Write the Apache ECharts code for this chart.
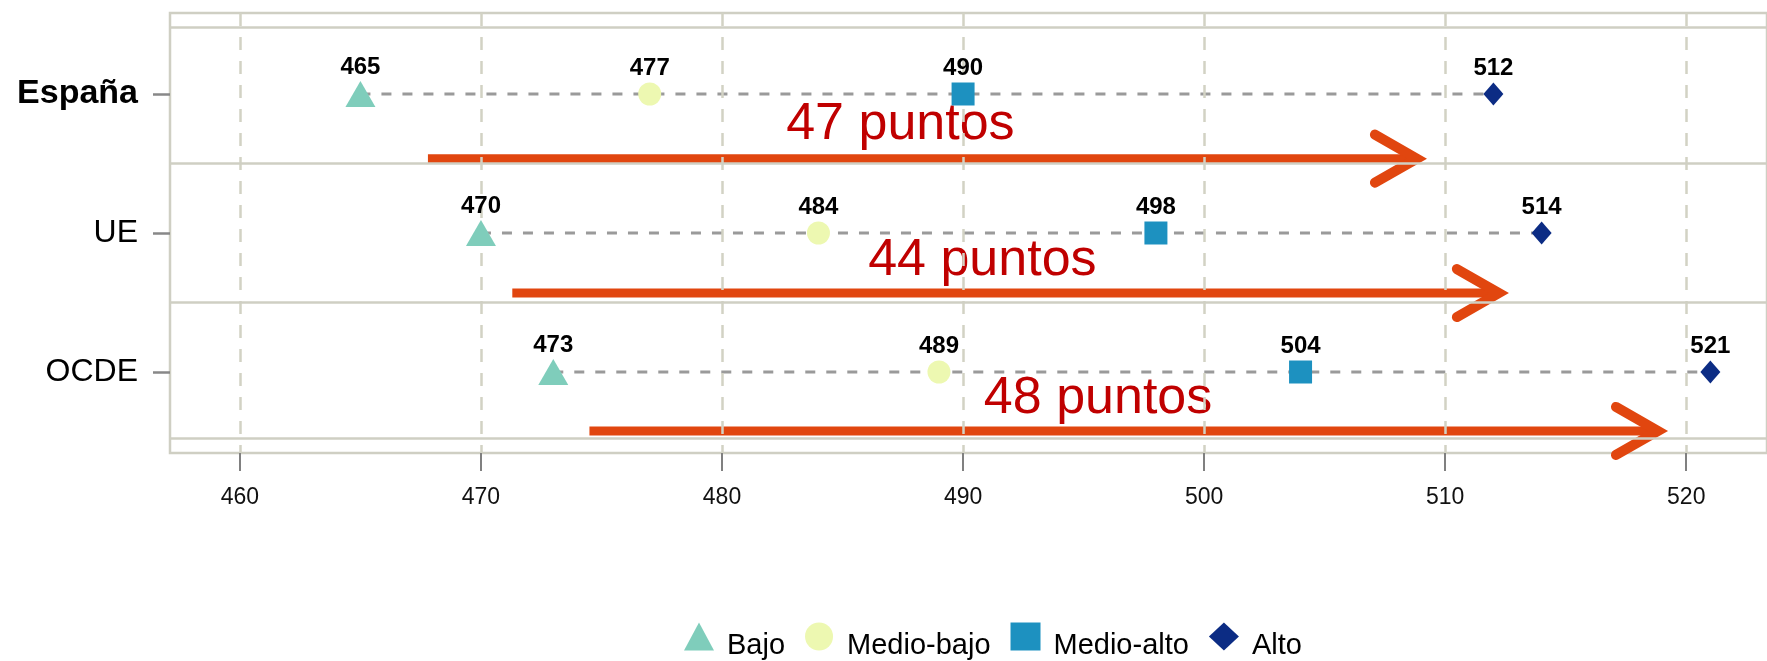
<!DOCTYPE html>
<html>
<head>
<meta charset="utf-8">
<script src="https://cdn.jsdelivr.net/npm/echarts@6/dist/echarts.min.js"></script>
<style>
html,body{margin:0;padding:0;background:#fff;}
#chart{width:1767px;height:661px;}
</style>
</head>
<body>
<div id="chart"></div>
<script>
// ---- data ----
const categories = ['España', 'UE', 'OCDE'];
const levels = ['Bajo', 'Medio-bajo', 'Medio-alto', 'Alto'];
const bajo = [465, 470, 473];
const medioBajo = [477, 484, 489];
const medioAlto = [490, 498, 504];
const alto = [512, 514, 521];
const xTicks = [460, 470, 480, 490, 500, 510, 520];
const gapLabels = ['47 puntos', '44 puntos', '48 puntos'];
const arrowFrom = [467.8, 471.3, 474.5];
const arrowTo = [509.2, 512.6, 519.2];
const arrowRow = [0.465, 1.432, 2.424];
const gapLabelX = [487.4, 490.8, 495.6];
const gapLabelRow = [0.22, 1.197, 2.194];

// ---- styles ----
const FONT = '"Liberation Sans", Arial, sans-serif';
const colors = ['#7fcdbb', '#edf8b1', '#1d91c0', '#0c2c84'];
const symbols = ['triangle', 'circle', 'rect', 'diamond'];
const symbolSizes = [[30, 26], [23, 23], [23, 23], [20, 23]];
const ARROW = '#e1460f';
const FRAME = '#cfcfc3';

const seriesValues = [bajo, medioBajo, medioAlto, alto];

const bandLines = [-0.485];
categories.forEach((c, i) => { if (i < categories.length - 1) bandLines.push(i + 0.5); });
bandLines.push(categories.length - 1 + 0.485);

const chart = echarts.init(document.getElementById('chart'), null, {renderer: 'canvas'});

const series = [];

// grid lines (structural) attached to an empty helper series
series.push({
  type: 'line', name: '_grid', data: [], silent: true, z: 1,
  markLine: {
    silent: true, symbol: ['none', 'none'], animation: false,
    label: {show: false},
    data: xTicks.map(v => ({xAxis: v, lineStyle: {color: '#d2d2c4', width: 2.5, type: [13, 11]}}))
      .concat(bandLines.map(v => ({yAxis: v, lineStyle: {color: FRAME, width: 2.5, type: 'solid'}})))
  }
});

// dashed connectors per row
categories.forEach((c, i) => {
  series.push({
    type: 'line', name: '_conn' + i, silent: true, z: 2,
    symbol: 'none',
    data: [[bajo[i], i], [alto[i], i]],
    lineStyle: {color: '#9a9a9a', width: 3, type: [10, 11]}
  });
});

// arrows + gap labels
series.push({
  type: 'custom', name: '_arrows', silent: true, z: 3, clip: false,
  data: arrowFrom.map((f, i) => [f, arrowTo[i], arrowRow[i], gapLabelX[i], gapLabelRow[i]]),
  encode: {x: [0, 1, 3], y: [2, 4]},
  renderItem: (params, api) => {
    const a = api.coord([api.value(0), api.value(2)]);
    const b = api.coord([api.value(1), api.value(2)]);
    const l = api.coord([api.value(3), api.value(4)]);
    const tipX = b[0] - 9;
    return {
      type: 'group',
      children: [
        {type: 'line', shape: {x1: a[0], y1: a[1], x2: tipX - 4, y2: b[1]},
         style: {stroke: ARROW, lineWidth: 9, lineCap: 'butt'}},
        {type: 'polyline', shape: {points: [[tipX - 42, b[1] - 24], [tipX, b[1]], [tipX - 42, b[1] + 24]]},
         style: {stroke: ARROW, lineWidth: 10, lineCap: 'round', lineJoin: 'miter', fill: null}},
        {type: 'text', x: l[0], y: l[1],
         style: {text: gapLabels[params.dataIndex], fill: '#c00000', font: '52px ' + FONT,
                 align: 'center', verticalAlign: 'middle'}}
      ]
    };
  }
});

// level markers
levels.forEach((lv, k) => {
  series.push({
    type: 'scatter', name: lv, z: 5,
    symbol: symbols[k], symbolSize: symbolSizes[k],
    itemStyle: {color: colors[k], opacity: 1},
    data: seriesValues[k].map((v, i) => [v, i]),
    label: {
      show: true, position: 'top', distance: 2,
      formatter: p => String(p.value[0]),
      color: '#000', fontFamily: FONT, fontSize: 24, fontWeight: 'bold'
    }
  });
});

chart.setOption({
  animation: false,
  backgroundColor: '#fff',
  grid: {left: 170, right: -3, top: 13, bottom: 208, show: true, borderColor: FRAME, borderWidth: 2.5, backgroundColor: 'transparent'},
  xAxis: {
    type: 'value', min: 457.1, max: 523.35,
    axisLine: {show: false, onZero: false},
    splitLine: {show: false},
    axisTick: {show: true, customValues: xTicks, length: 18, lineStyle: {color: '#808080', width: 2}},
    axisLabel: {customValues: xTicks, margin: 33, color: '#111', fontFamily: FONT, fontSize: 23}
  },
  yAxis: {
    type: 'value', inverse: true, min: -0.5827, max: 2.5827,
    axisLine: {show: false, onZero: false},
    splitLine: {show: false},
    axisTick: {show: true, customValues: categories.map((c, i) => i), length: 17, lineStyle: {color: '#888', width: 2.5}},
    axisLabel: {
      customValues: categories.map((c, i) => i), margin: 32,
      formatter: v => (v === 0 ? '{b|' + categories[v] + '}' : '{n|' + categories[v] + '}'),
      rich: {
        b: {fontFamily: FONT, fontSize: 34, fontWeight: 'bold', color: '#000'},
        n: {fontFamily: FONT, fontSize: 32, color: '#000'}
      }
    }
  },
  legend: {
    data: levels.map((lv, k) => ({name: lv, icon: symbols[k]})),
    left: 679, top: 608,
    itemWidth: 30, itemHeight: 28, itemGap: 20,
    formatter: name => '{s|}\n{t|' + name + '}',
    textStyle: {
      fontFamily: FONT, fontSize: 29, color: '#000',
      rich: {
        s: {height: 18, lineHeight: 18, fontSize: 10},
        t: {fontFamily: FONT, fontSize: 29, lineHeight: 29, color: '#000', padding: [0, 0, 0, 8]}
      }
    },
    selectedMode: false
  },
  series: series
});
</script>
</body>
</html>
